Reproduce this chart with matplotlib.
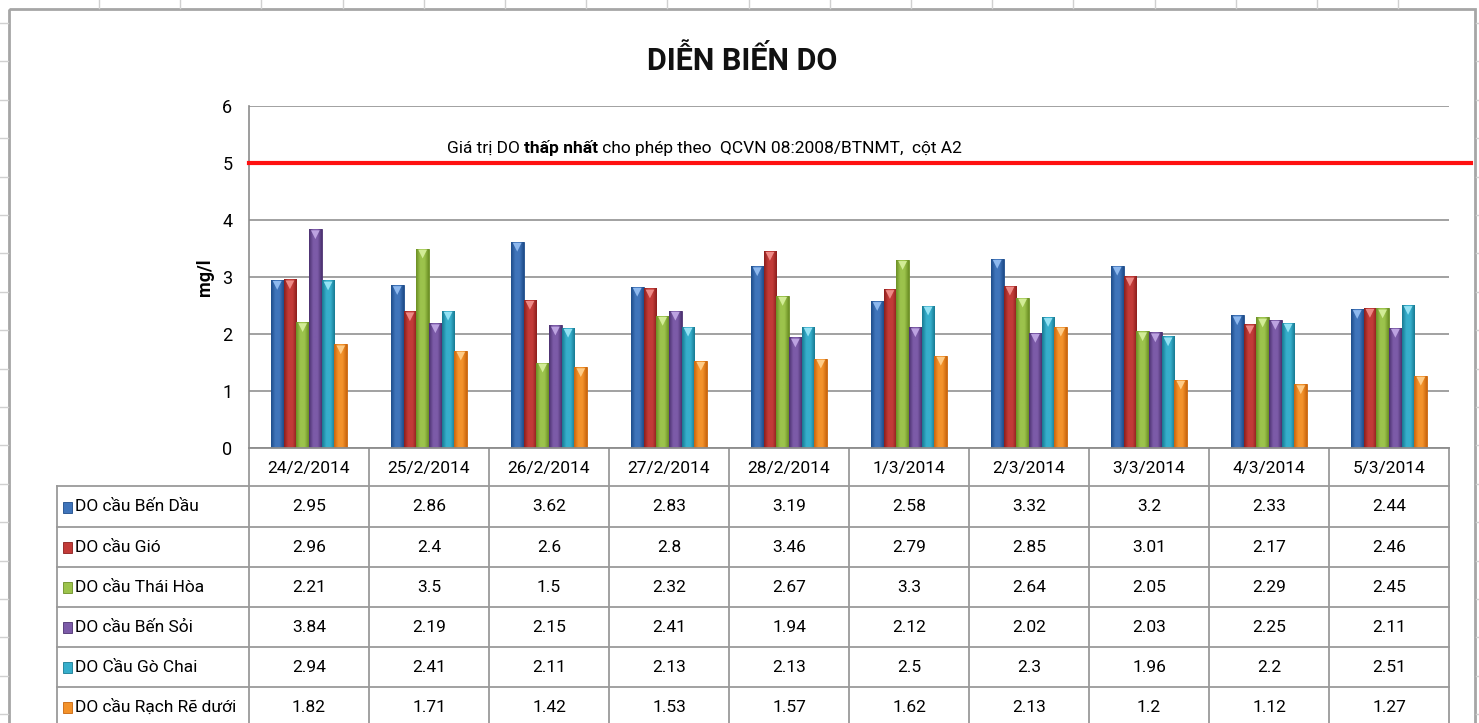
import numpy as np
import matplotlib
matplotlib.use("Agg")
import matplotlib.pyplot as plt
from matplotlib.colors import LinearSegmentedColormap
from matplotlib import transforms
from matplotlib.patches import Rectangle

plt.rcParams['font.family'] = ['Roboto', 'DejaVu Sans']

# ---------------- data ----------------
dates = ["24/2/2014", "25/2/2014", "26/2/2014", "27/2/2014", "28/2/2014",
         "1/3/2014", "2/3/2014", "3/3/2014", "4/3/2014", "5/3/2014"]
series_names = ["DO cầu Bến Dầu", "DO cầu Gió", "DO cầu Thái Hòa",
                "DO cầu Bến Sỏi", "DO Cầu Gò Chai", "DO cầu Rạch Rẽ dưới"]
ben_dau = [2.95, 2.86, 3.62, 2.83, 3.19, 2.58, 3.32, 3.2, 2.33, 2.44]
gio = [2.96, 2.4, 2.6, 2.8, 3.46, 2.79, 2.85, 3.01, 2.17, 2.46]
thai_hoa = [2.21, 3.5, 1.5, 2.32, 2.67, 3.3, 2.64, 2.05, 2.29, 2.45]
ben_soi = [3.84, 2.19, 2.15, 2.41, 1.94, 2.12, 2.02, 2.03, 2.25, 2.11]
go_chai = [2.94, 2.41, 2.11, 2.13, 2.13, 2.5, 2.3, 1.96, 2.2, 2.51]
rach_re = [1.82, 1.71, 1.42, 1.53, 1.57, 1.62, 2.13, 1.2, 1.12, 1.27]
threshold = 5
yticks = [0, 1, 2, 3, 4, 5, 6]
title = "DIỄN BIẾN DO"
ylabel = "mg/l"
note_parts = ["Giá trị DO ", "thấp nhất", " cho phép theo  QCVN 08:2008/BTNMT,  cột A2"]

series = [ben_dau, gio, thai_hoa, ben_soi, go_chai, rach_re]

# (dark, mid, light) shades per series
shades = [("#1E4C8A", "#3F74BA", "#8DB8EE"),
          ("#8C1E1C", "#C23B38", "#EE8A86"),
          ("#6B8E24", "#9CC34C", "#D2EC96"),
          ("#4C3170", "#7C5BA8", "#BCA2E0"),
          ("#177A92", "#36AECB", "#93E2F4"),
          ("#C9650C", "#F3922A", "#FFCB85")]

# ---------------- layout (pixels) ----------------
W, H = 1479, 723
PL, PR, PT, PB = 249, 1449, 106, 448
TL = 57
row_edges = [448, 486, 527, 567, 607, 647, 687, 727]

fig = plt.figure(figsize=(W / 100, H / 100), dpi=100)
fig.patch.set_facecolor("white")

ax = fig.add_axes([PL / W, 1 - PB / H, (PR - PL) / W, (PB - PT) / H])
n = len(dates)
ns = len(series)
bw = 0.106
x = np.arange(n)

ax.set_xlim(-0.5, n - 0.5)
ax.set_ylim(0, 6)
ax.set_yticks(yticks)
ax.set_yticklabels([str(t) for t in yticks], fontsize=13)
ax.tick_params(axis='y', length=0, pad=12)
ax.set_xticks([])
for s in ["top", "right", "bottom"]:
    ax.spines[s].set_visible(False)
ax.spines["left"].set_color("#8C8C8C")
ax.spines["left"].set_linewidth(1.2)
ax.grid(axis='y', color="#9A9A9A", linewidth=1.3, zorder=0)
ax.set_axisbelow(True)
ax.set_ylabel(ylabel, fontsize=13, fontweight='bold', labelpad=6)

for k, vals in enumerate(series):
    dark, mid, light = shades[k]
    cmap = LinearSegmentedColormap.from_list("c%d" % k, [dark, mid, mid, dark])
    pos = x + (k - (ns - 1) / 2) * bw
    bars = ax.bar(pos, vals, width=bw, color=mid, edgecolor=dark, linewidth=0.6, zorder=2)
    grad = np.linspace(0, 1, 64).reshape(1, -1)
    for b in bars:
        x0, y0 = b.get_x(), b.get_y()
        im = ax.imshow(grad, extent=(x0, x0 + b.get_width(), y0, y0 + b.get_height()),
                       aspect='auto', cmap=cmap, zorder=3, interpolation='bilinear')
        im.set_clip_path(b)
    off = transforms.offset_copy(ax.transData, fig=fig, x=0, y=-4, units='points')
    ax.scatter(pos, vals, marker='v', s=40, color=light, edgecolors='none',
               transform=off, zorder=4)

ax.set_xlim(-0.5, n - 0.5)
ax.set_ylim(0, 6)

# threshold line, extends beyond plot area
ax.plot([-0.5, n - 0.5 + 22 / 120], [threshold, threshold], color="#FF1010",
        linewidth=3, clip_on=False, zorder=5)

# ---------------- overlay axes in pixel coordinates ----------------
tax = fig.add_axes([0, 0, 1, 1], zorder=10)
tax.set_xlim(0, W)
tax.set_ylim(H, 0)
tax.axis('off')

# spreadsheet background marks
for xx in np.arange(99, W, 81.2):
    tax.plot([xx, xx], [0, 8], color="#D0D0D0", linewidth=1)
for yy in np.arange(23, H, 38.4):
    tax.plot([0, 8], [yy, yy], color="#D0D0D0", linewidth=1)
    tax.plot([1476, W], [yy, yy], color="#D0D0D0", linewidth=1)
tax.add_patch(Rectangle((9, 9), 1466, 740, fill=False, edgecolor="#A6A6A6", linewidth=2))

# title
tax.text(742, 60, title, ha='center', va='center', fontsize=22,
         fontweight='bold', color="#111111")

# note above threshold
t1 = tax.text(447, 156, note_parts[0], ha='left', va='bottom', fontsize=12.5)
t2 = tax.annotate(note_parts[1], xy=(1, 0), xycoords=t1, ha='left', va='bottom',
                  fontsize=12.5, fontweight='bold')
t3 = tax.annotate(note_parts[2], xy=(1, 0), xycoords=t2, ha='left', va='bottom',
                  fontsize=12.5)

# data table
cw = (PR - PL) / n
lc = "#9A9A9A"
for i in range(n + 1):
    xx = PL + i * cw
    tax.plot([xx, xx], [row_edges[0], row_edges[-1]], color=lc, linewidth=1.3)
tax.plot([PL, PR], [row_edges[0], row_edges[0]], color="#8C8C8C", linewidth=1.3)
for yy in row_edges[1:]:
    tax.plot([TL, PR], [yy, yy], color=lc, linewidth=1.3)
tax.plot([TL, TL], [row_edges[1], row_edges[-1]], color=lc, linewidth=1.3)

for i, d in enumerate(dates):
    cx = PL + (i + 0.5) * cw
    tax.text(cx, (row_edges[0] + row_edges[1]) / 2 + 1, d, ha='center', va='center',
             fontsize=12.5)
for k, (name, vals) in enumerate(zip(series_names, series)):
    cy = (row_edges[k + 1] + row_edges[k + 2]) / 2
    dark, mid, light = shades[k]
    tax.add_patch(Rectangle((63, cy - 5), 9, 11, facecolor=mid, edgecolor=dark, linewidth=0.6))
    tax.text(75, cy, name, ha='left', va='center', fontsize=12.5)
    for i, v in enumerate(vals):
        cx = PL + (i + 0.5) * cw
        tax.text(cx, cy, f"{v:g}", ha='center', va='center', fontsize=12.5)

fig.savefig("out.png", dpi=100, facecolor="white")
